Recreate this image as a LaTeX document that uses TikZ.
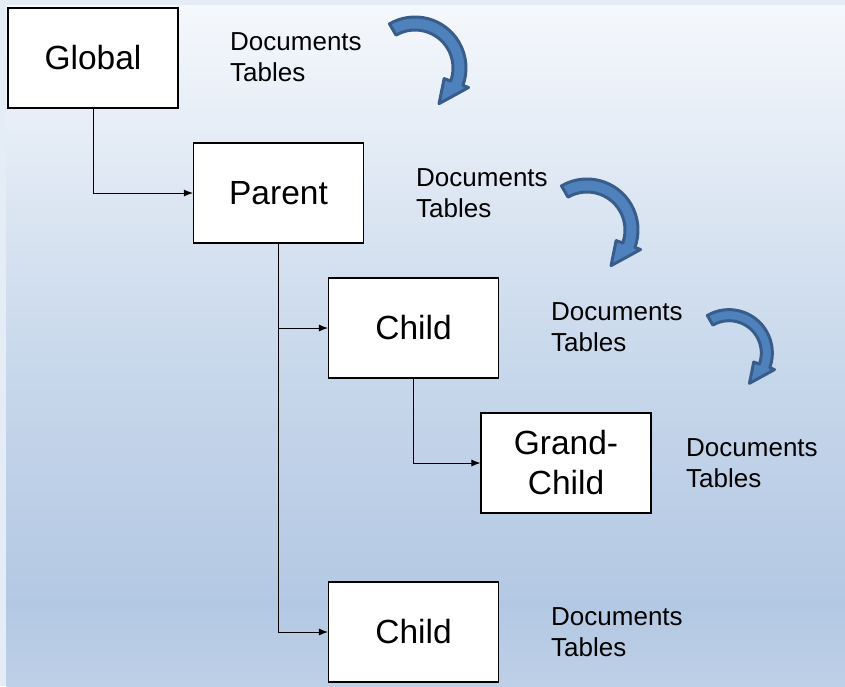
\documentclass[tikz,border=0pt]{standalone}
\usepackage{fontspec}
\setmainfont{Liberation Sans}
\usetikzlibrary{arrows.meta}
\definecolor{bgtop}{HTML}{F5F8FC}
\definecolor{bgmid}{HTML}{CAD9EC}
\definecolor{bglow}{HTML}{B3C8E3}
\definecolor{bgbot}{HTML}{BDD0E7}
\definecolor{bgedge}{HTML}{E4EDF5}
\definecolor{arrfill}{HTML}{4F81BD}
\definecolor{arrline}{HTML}{385D8A}
\pgfdeclareverticalshading{bgshade}{100bp}{color(0bp)=(bgbot); color(25bp)=(bgbot); color(31bp)=(bglow); color(50bp)=(bgmid); color(75bp)=(bgtop); color(100bp)=(bgtop)}
\tikzset{
  box/.style={draw=black, line width=1.1pt, fill=white, minimum width=170pt, minimum height=100pt, inner sep=0pt, align=center, font=\fontsize{33.5}{40}\selectfont},
  lbl/.style={anchor=base west, inner sep=0pt, align=left, font=\fontsize{26}{31}\selectfont},
  conn/.style={draw=black, line width=0.9pt, -{Latex[length=9pt,width=7pt]}},
  curvarrow/.pic={
    \path[fill=arrfill, draw=arrline, line width=3pt, line join=round, x=1pt, y=1pt]
      (120:51) arc[start angle=120, end angle=-20, radius=51]
      -- (-20:57) -- (-56:43) -- (-20:31) -- (-20:38)
      arc[start angle=-20, end angle=120, radius=38] -- cycle;
  }
}
\begin{document}
\begin{tikzpicture}[x=1pt, y=-1pt]
\useasboundingbox (0,0) rectangle (845,686);
\fill[bgedge] (0,0) rectangle (845,686);
\shade[shading=bgshade] (6,5) rectangle (845,686);

\node[box] (global) at (93,58) {Global};
\node[box] (parent) at (278.5,193) {Parent};
\node[box] (child1) at (413.5,328) {Child};
\node[box] (gc) at (566,463) {Grand-\\Child};
\node[box] (child2) at (413.5,632) {Child};

\draw[conn] (global.south) |- (parent.west);
\draw[conn] (parent.south) |- (child1.west);
\draw[conn] (parent.south) |- (child2.west);
\draw[conn] (child1.south) |- (gc.west);

\node[lbl] (t1) at (230,81) {Documents\\Tables};
\node[lbl] (t2) at (416,217) {Documents\\Tables};
\node[lbl] (t3) at (551,351) {Documents\\Tables};
\node[lbl] (t4) at (686,487) {Documents\\Tables};
\node[lbl] (t5) at (551,656) {Documents\\Tables};

\pic at (415,68) {curvarrow};
\pic at (587,230) {curvarrow};
\pic[scale=0.85] at (729,353) {curvarrow};
\end{tikzpicture}
\end{document}
